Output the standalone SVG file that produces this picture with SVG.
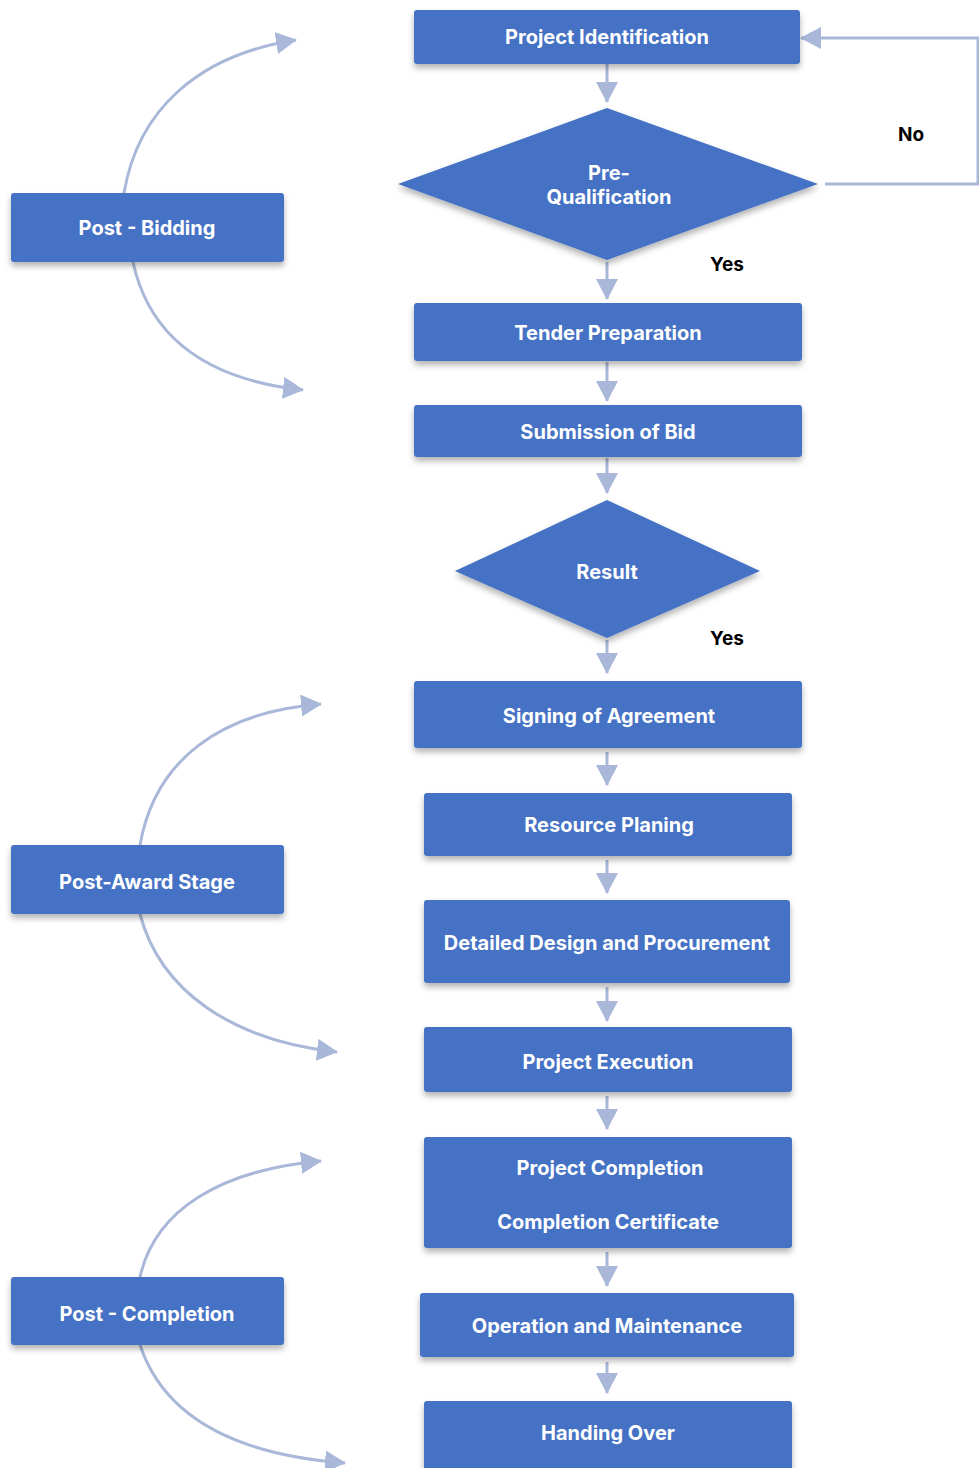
<svg xmlns="http://www.w3.org/2000/svg" width="979" height="1468" viewBox="0 0 979 1468">
<style>
.box{fill:#4472C4;filter:url(#sh)}
.t{fill:#FFFFFF;font-family:Inter,"Liberation Sans",sans-serif;font-weight:700;font-size:20px;text-anchor:middle;dominant-baseline:central}
.lbl{fill:#000000;font-family:Inter,"Liberation Sans",sans-serif;font-weight:700;font-size:19px;text-anchor:middle;dominant-baseline:central}
.c{fill:none;stroke:#A9B7D9;stroke-width:3}
</style>
<defs>
<filter id="sh" x="-10%" y="-20%" width="120%" height="150%">
<feDropShadow dx="0" dy="4" stdDeviation="3" flood-color="#000" flood-opacity="0.3"/>
</filter>
<marker id="ah" markerUnits="userSpaceOnUse" markerWidth="22" markerHeight="22" viewBox="0 0 22 22" refX="20" refY="11" orient="auto">
<path d="M0,0 L21,11 L0,22 Z" fill="#A9B7D9"/>
</marker>
</defs>
<rect width="979" height="1468" fill="#FFFFFF"/>
<g id="connectors">
<line class="c" x1="607" y1="64" x2="607" y2="102" marker-end="url(#ah)"/>
<line class="c" x1="607" y1="262" x2="607" y2="299" marker-end="url(#ah)"/>
<line class="c" x1="607" y1="362" x2="607" y2="401" marker-end="url(#ah)"/>
<line class="c" x1="607" y1="458" x2="607" y2="493" marker-end="url(#ah)"/>
<line class="c" x1="607" y1="640" x2="607" y2="673" marker-end="url(#ah)"/>
<line class="c" x1="607" y1="752" x2="607" y2="785" marker-end="url(#ah)"/>
<line class="c" x1="607" y1="860" x2="607" y2="893" marker-end="url(#ah)"/>
<line class="c" x1="607" y1="987" x2="607" y2="1021" marker-end="url(#ah)"/>
<line class="c" x1="607" y1="1096" x2="607" y2="1129" marker-end="url(#ah)"/>
<line class="c" x1="607" y1="1252" x2="607" y2="1286" marker-end="url(#ah)"/>
<line class="c" x1="607" y1="1362" x2="607" y2="1393" marker-end="url(#ah)"/>
<polyline class="c" points="825,184 978,184 978,38 801,38" marker-end="url(#ah)"/>
<path class="c" d="M124,193 C138,110 198,55 296,40" marker-end="url(#ah)"/>
<path class="c" d="M133,262 C150,340 210,380 303,390" marker-end="url(#ah)"/>
<path class="c" d="M140,845 C155,760 220,712 321,704" marker-end="url(#ah)"/>
<path class="c" d="M140,914 C160,990 230,1040 337,1052" marker-end="url(#ah)"/>
<path class="c" d="M140,1277 C155,1210 220,1170 321,1161" marker-end="url(#ah)"/>
<path class="c" d="M140,1345 C165,1420 240,1455 345,1463" marker-end="url(#ah)"/>
</g>
<g id="n-project-identification"><rect class="box" x="414" y="10" width="386" height="54" rx="3"/><text class="t" x="607" y="37">Project Identification</text></g>
<g id="n-pre-qualification"><polygon class="box" points="607,108 818,184 607,260 398,184"/><text class="t" x="609" y="173">Pre-</text><text class="t" x="609" y="197">Qualification</text></g>
<g id="n-tender-preparation"><rect class="box" x="414" y="303" width="388" height="58" rx="3"/><text class="t" x="608" y="333">Tender Preparation</text></g>
<g id="n-submission-of-bid"><rect class="box" x="414" y="405" width="388" height="52" rx="3"/><text class="t" x="608" y="432">Submission of Bid</text></g>
<g id="n-result"><polygon class="box" points="607,500 760,571 607,638 455,571"/><text class="t" x="607" y="572">Result</text></g>
<g id="n-signing"><rect class="box" x="414" y="681" width="388" height="67" rx="3"/><text class="t" x="609" y="716">Signing of Agreement</text></g>
<g id="n-resource"><rect class="box" x="424" y="793" width="368" height="63" rx="3"/><text class="t" x="609" y="825">Resource Planing</text></g>
<g id="n-design"><rect class="box" x="424" y="900" width="366" height="83" rx="3"/><text class="t" x="607" y="943">Detailed Design and Procurement</text></g>
<g id="n-execution"><rect class="box" x="424" y="1027" width="368" height="65" rx="3"/><text class="t" x="608" y="1062">Project Execution</text></g>
<g id="n-completion"><rect class="box" x="424" y="1137" width="368" height="111" rx="3"/><text class="t" x="610" y="1168">Project Completion</text><text class="t" x="608" y="1222">Completion Certificate</text></g>
<g id="n-operation"><rect class="box" x="420" y="1293" width="374" height="64" rx="3"/><text class="t" x="607" y="1326">Operation and Maintenance</text></g>
<g id="n-handing"><rect class="box" x="424" y="1401" width="368" height="72" rx="3"/><text class="t" x="608" y="1433">Handing Over</text></g>
<g id="n-post-bidding"><rect class="box" x="11" y="193" width="273" height="69" rx="3"/><text class="t" x="147" y="228">Post - Bidding</text></g>
<g id="n-post-award"><rect class="box" x="11" y="845" width="273" height="69" rx="3"/><text class="t" x="147" y="882">Post-Award Stage</text></g>
<g id="n-post-completion"><rect class="box" x="11" y="1277" width="273" height="68" rx="3"/><text class="t" x="147" y="1314">Post - Completion</text></g>
<g id="labels">
<text class="lbl" x="911" y="134">No</text>
<text class="lbl" x="727" y="264">Yes</text>
<text class="lbl" x="727" y="638">Yes</text>
</g>
</svg>
